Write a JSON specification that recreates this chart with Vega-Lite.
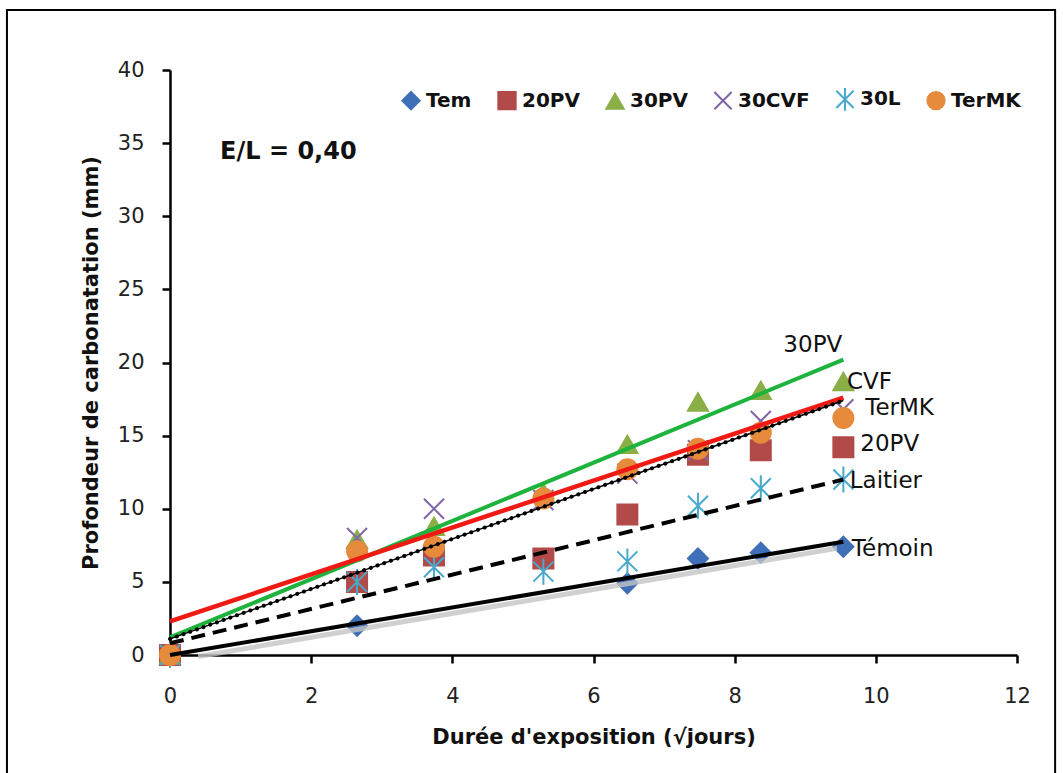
{
  "$schema": "https://vega.github.io/schema/vega-lite/v6.json",
  "autosize": {"type": "none"},
  "padding": {"left": 170, "top": 70, "right": 46, "bottom": 118},
  "width": 847,
  "height": 585,
  "background": "white",
  "config": {
    "view": {"stroke": null},
    "font": "DejaVu Sans",
    "axis": {"grid": false, "domainColor": "black", "domainWidth": 2.5, "tickColor": "black", "tickWidth": 2.5, "tickSize": 8, "labelFont": "DejaVu Sans", "labelFontSize": 21, "labelColor": "#222", "titleFont": "DejaVu Sans", "titleFontSize": 21, "titleFontWeight": "bold", "titleColor": "#111"}
  },
  "datasets": {
    "pts": [
      {"serie": "Tem", "x": 0, "y": 0}, {"serie": "Tem", "x": 2.65, "y": 2.0}, {"serie": "Tem", "x": 6.48, "y": 4.9}, {"serie": "Tem", "x": 7.48, "y": 6.6}, {"serie": "Tem", "x": 8.37, "y": 7.0}, {"serie": "Tem", "x": 9.54, "y": 7.4},
      {"serie": "20PV", "x": 0, "y": 0}, {"serie": "20PV", "x": 2.65, "y": 5.0}, {"serie": "20PV", "x": 3.74, "y": 6.8}, {"serie": "20PV", "x": 5.29, "y": 6.6}, {"serie": "20PV", "x": 6.48, "y": 9.6}, {"serie": "20PV", "x": 7.48, "y": 13.7}, {"serie": "20PV", "x": 8.37, "y": 14.0}, {"serie": "20PV", "x": 9.54, "y": 14.2},
      {"serie": "30PV", "x": 0, "y": 0}, {"serie": "30PV", "x": 2.65, "y": 7.9}, {"serie": "30PV", "x": 3.74, "y": 8.8}, {"serie": "30PV", "x": 5.29, "y": 11.1}, {"serie": "30PV", "x": 6.48, "y": 14.4}, {"serie": "30PV", "x": 7.48, "y": 17.3}, {"serie": "30PV", "x": 8.37, "y": 18.1}, {"serie": "30PV", "x": 9.54, "y": 18.7},
      {"serie": "30CVF", "x": 0, "y": 0}, {"serie": "30CVF", "x": 2.65, "y": 8.0}, {"serie": "30CVF", "x": 3.74, "y": 10.0}, {"serie": "30CVF", "x": 5.29, "y": 10.6}, {"serie": "30CVF", "x": 6.48, "y": 12.4}, {"serie": "30CVF", "x": 7.48, "y": 14.0}, {"serie": "30CVF", "x": 8.37, "y": 16.0}, {"serie": "30CVF", "x": 9.54, "y": 16.8},
      {"serie": "30L", "x": 0, "y": 0}, {"serie": "30L", "x": 2.65, "y": 5.0}, {"serie": "30L", "x": 3.74, "y": 6.0}, {"serie": "30L", "x": 5.29, "y": 5.7}, {"serie": "30L", "x": 6.48, "y": 6.4}, {"serie": "30L", "x": 7.48, "y": 10.2}, {"serie": "30L", "x": 8.37, "y": 11.4}, {"serie": "30L", "x": 9.54, "y": 12.0},
      {"serie": "TerMK", "x": 0, "y": 0}, {"serie": "TerMK", "x": 2.65, "y": 7.1}, {"serie": "TerMK", "x": 3.74, "y": 7.4}, {"serie": "TerMK", "x": 5.29, "y": 10.7}, {"serie": "TerMK", "x": 6.48, "y": 12.7}, {"serie": "TerMK", "x": 7.48, "y": 14.1}, {"serie": "TerMK", "x": 8.37, "y": 15.2}, {"serie": "TerMK", "x": 9.54, "y": 16.2}
    ],
    "tem": [{"x": 0, "y": 0}, {"x": 9.54, "y": 7.75}],
    "shadow": [{"x": 0.4, "y": -0.1}, {"x": 9.45, "y": 7.3}],
    "lai": [{"x": 0, "y": 0.8}, {"x": 9.54, "y": 12.0}],
    "cvf": [{"x": 0, "y": 1.1}, {"x": 9.54, "y": 17.4}],
    "red": [{"x": 0, "y": 2.3}, {"x": 9.54, "y": 17.6}],
    "green": [{"x": 0, "y": 1.2}, {"x": 9.54, "y": 20.2}],
    "labels": [
      {"t": "30PV", "x": 8.69, "y": 21.2},
      {"t": "CVF", "x": 9.59, "y": 18.7},
      {"t": "TerMK", "x": 9.85, "y": 16.9},
      {"t": "20PV", "x": 9.78, "y": 14.4},
      {"t": "Laitier", "x": 9.63, "y": 11.9},
      {"t": "Témoin", "x": 9.66, "y": 7.25}
    ],
    "el": [{"t": "E/L = 0,40", "x": 0.71, "y": 34.4}],
    "frame": [{"x": -2.31, "x2": 12.54, "y": 44.1, "y2": -9}]
  },
  "layer": [
    {
      "data": {"name": "frame"},
      "mark": {"type": "rect", "fill": null, "stroke": "black", "strokeWidth": 2, "clip": false},
      "encoding": {"x": {"field": "x", "type": "quantitative"}, "x2": {"field": "x2"}, "y": {"field": "y", "type": "quantitative"}, "y2": {"field": "y2"}}
    },
    {
      "data": {"name": "pts"},
      "mark": {"type": "point", "size": 400, "strokeWidth": 2, "opacity": 1},
      "encoding": {
        "x": {"field": "x", "type": "quantitative", "scale": {"domain": [0, 12]}, "axis": {"values": [0, 2, 4, 6, 8, 10, 12], "format": "d", "labelFlush": false, "title": "Durée d'exposition  (√jours)", "labelPadding": 22, "titlePadding": 20}},
        "y": {"field": "y", "type": "quantitative", "scale": {"domain": [0, 40]}, "axis": {"values": [0, 5, 10, 15, 20, 25, 30, 35, 40], "format": "d", "labelFlush": false, "title": "Profondeur de carbonatation  (mm)", "labelPadding": 18, "titlePadding": 16}},
        "fill": {"field": "serie", "type": "nominal", "sort": null, "scale": {"domain": ["Tem", "20PV", "30PV", "30CVF", "30L", "TerMK"], "range": ["#3F6FB6", "#B24A4A", "#8BAF47", "transparent", "transparent", "#E68A3C"]}, "legend": {"title": null}},
        "stroke": {"field": "serie", "type": "nominal", "sort": null, "scale": {"domain": ["Tem", "20PV", "30PV", "30CVF", "30L", "TerMK"], "range": ["#3F6FB6", "#B24A4A", "#8BAF47", "#8066A8", "#48A9CC", "#E68A3C"]}, "legend": {"title": null}},
        "shape": {"field": "serie", "type": "nominal", "sort": null, "scale": {"domain": ["Tem", "20PV", "30PV", "30CVF", "30L", "TerMK"], "range": ["diamond", "square", "triangle-up", "M-1,-1L1,1M-1,1L1,-1", "M-1,-1L1,1M-1,1L1,-1M0,-1.3L0,1.3", "circle"]}, "legend": {"title": null, "orient": "none", "legendX": 231, "legendY": 19, "direction": "horizontal", "labelFont": "DejaVu Sans", "labelFontSize": 20, "labelFontWeight": "bold", "labelColor": "#111", "symbolSize": 300, "symbolStrokeWidth": 2, "columnPadding": 22, "labelOffset": 5}}
      }
    },
    {
      "data": {"name": "shadow"},
      "mark": {"type": "line", "color": "#c4c4c4", "strokeWidth": 5, "opacity": 0.8},
      "encoding": {"x": {"field": "x", "type": "quantitative"}, "y": {"field": "y", "type": "quantitative"}}
    },
    {
      "data": {"name": "tem"},
      "mark": {"type": "line", "color": "black", "strokeWidth": 4},
      "encoding": {"x": {"field": "x", "type": "quantitative"}, "y": {"field": "y", "type": "quantitative"}}
    },
    {
      "data": {"name": "lai"},
      "mark": {"type": "line", "color": "black", "strokeWidth": 4, "strokeDash": [14, 8]},
      "encoding": {"x": {"field": "x", "type": "quantitative"}, "y": {"field": "y", "type": "quantitative"}}
    },
    {
      "data": {"name": "green"},
      "mark": {"type": "line", "color": "#1DB33C", "strokeWidth": 4},
      "encoding": {"x": {"field": "x", "type": "quantitative"}, "y": {"field": "y", "type": "quantitative"}}
    },
    {
      "data": {"name": "red"},
      "mark": {"type": "line", "color": "#F01A14", "strokeWidth": 4.5},
      "encoding": {"x": {"field": "x", "type": "quantitative"}, "y": {"field": "y", "type": "quantitative"}}
    },
    {
      "data": {"name": "cvf"},
      "mark": {"type": "line", "color": "black", "strokeWidth": 1.5},
      "encoding": {"x": {"field": "x", "type": "quantitative"}, "y": {"field": "y", "type": "quantitative"}}
    },
    {
      "data": {"name": "cvf"},
      "mark": {"type": "line", "color": "black", "strokeWidth": 4, "strokeDash": [0.1, 7], "strokeCap": "round"},
      "encoding": {"x": {"field": "x", "type": "quantitative"}, "y": {"field": "y", "type": "quantitative"}}
    },
    {
      "data": {"name": "labels"},
      "mark": {"type": "text", "align": "left", "baseline": "middle", "font": "DejaVu Sans", "fontSize": 23, "color": "#111"},
      "encoding": {"x": {"field": "x", "type": "quantitative"}, "y": {"field": "y", "type": "quantitative"}, "text": {"field": "t"}}
    },
    {
      "data": {"name": "el"},
      "mark": {"type": "text", "align": "left", "baseline": "middle", "font": "DejaVu Sans", "fontSize": 24, "fontWeight": "bold", "color": "#111"},
      "encoding": {"x": {"field": "x", "type": "quantitative"}, "y": {"field": "y", "type": "quantitative"}, "text": {"field": "t"}}
    }
  ]
}
